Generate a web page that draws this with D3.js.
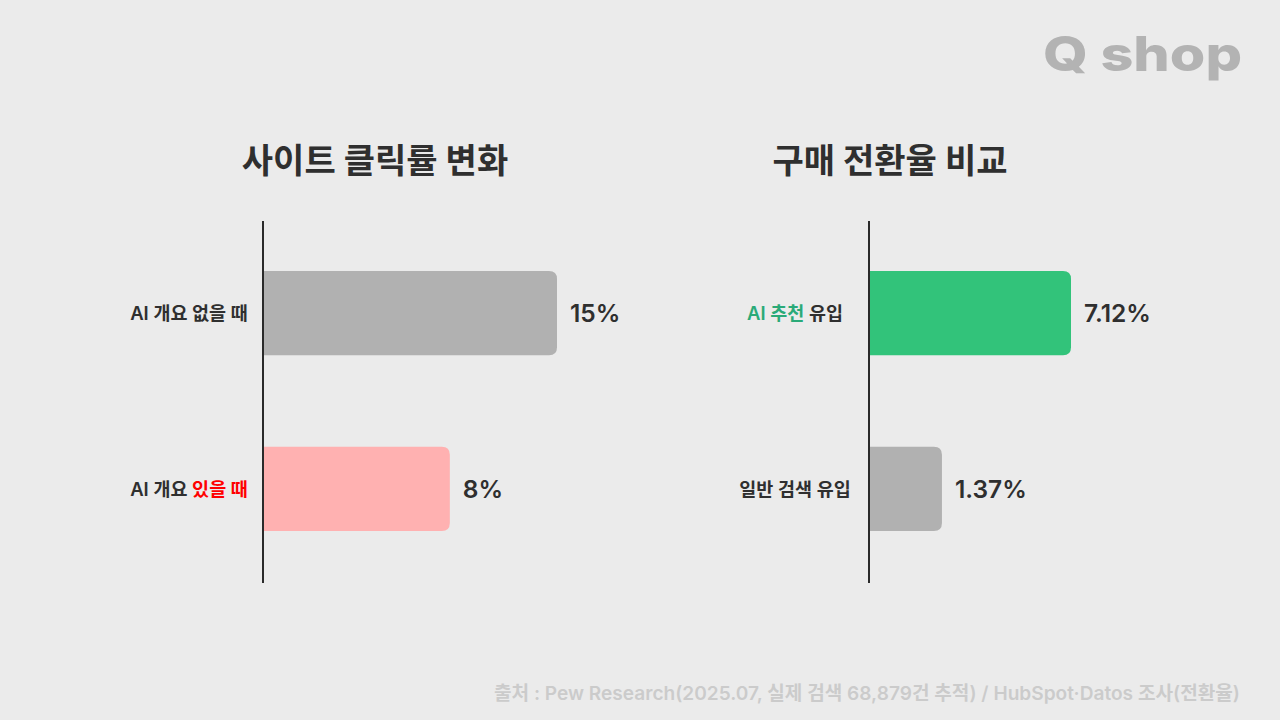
<!DOCTYPE html>
<html>
<head>
<meta charset="utf-8">
<script src="https://cdn.jsdelivr.net/npm/d3@7"></script>
<style>
  html, body { margin: 0; padding: 0; background: #ebebeb; }
  svg { display: block; font-family: "Inter", "Noto Sans CJK KR", sans-serif; }
</style>
</head>
<body>
<div class="chartDiv"></div>
<script>
// data
var clickCats = ["AI 개요 없을 때", "AI 개요 있을 때"];
var clickAccent = ["", "있을 때"];
var clickValues = [15, 8];
var clickValueLabels = ["15%", "8%"];

var convCats = ["AI 추천 유입", "일반 검색 유입"];
var convAccent = ["AI 추천", ""];
var convValues = [7.12, 1.37];
var convValueLabels = ["7.12%", "1.37%"];

var titles = ["사이트 클릭률 변화", "구매 전환율 비교"];
var sourceText = "출처 : Pew Research(2025.07, 실제 검색 68,879건 추적) / HubSpot·Datos 조사(전환율)";
var logoText = "Q shop";

var width = 1280, height = 720;

var svg = d3.select('div.chartDiv').append('svg')
  .attr('width', width)
  .attr('height', height);

svg.append('rect').attr('width', width).attr('height', height).attr('fill', '#ebebeb');

// logo (wide face in the original, stretched to its width)
svg.append('text')
  .attr('x', 1043).attr('y', 71)
  .attr('font-size', 48).attr('font-weight', 800)
  .attr('textLength', 199).attr('lengthAdjust', 'spacingAndGlyphs')
  .attr('fill', '#b3b3b3')
  .text(logoText);

// bar path with rounded right corners only
function barPath(x0, y0, w, h, r) {
  r = Math.min(r, w, h / 2);
  return 'M' + x0 + ',' + y0 +
    'H' + (x0 + w - r) +
    'Q' + (x0 + w) + ',' + y0 + ' ' + (x0 + w) + ',' + (y0 + r) +
    'V' + (y0 + h - r) +
    'Q' + (x0 + w) + ',' + (y0 + h) + ' ' + (x0 + w - r) + ',' + (y0 + h) +
    'H' + x0 + 'Z';
}

function panel(opts) {
  var g = svg.append('g');

  var y = d3.scaleBand().domain(opts.cats)
    .range([220, 582]).paddingInner(0.52).paddingOuter(0.29);

  var x = d3.scaleLinear().domain(opts.domain).range([0, opts.span]);

  g.append('text')
    .attr('x', opts.titleX).attr('y', 173)
    .attr('text-anchor', 'middle')
    .attr('font-size', 34).attr('font-weight', 700)
    .attr('fill', '#2f2f2f')
    .text(opts.title);

  g.selectAll('path.bar').data(opts.values).enter().append('path')
    .attr('class', 'bar')
    .attr('fill', function(d, i) { return opts.colors[i]; })
    .attr('d', function(d, i) {
      return barPath(opts.axisX, y(opts.cats[i]), x(d) - x(opts.domain[0]), y.bandwidth(), 8);
    });

  g.selectAll('text.val').data(opts.values).enter().append('text')
    .attr('class', 'val')
    .attr('x', function(d) { return opts.axisX + x(d) - x(opts.domain[0]) + 13; })
    .attr('y', function(d, i) { return y(opts.cats[i]) + y.bandwidth() / 2; })
    .attr('dy', '0.36em')
    .attr('font-size', 24.5).attr('font-weight', 600)
    .attr('fill', '#2f2f2f')
    .text(function(d, i) { return opts.valueLabels[i]; });

  var labels = g.selectAll('text.cat').data(opts.cats).enter().append('text')
    .attr('class', 'cat')
    .attr('x', opts.axisX - 74)
    .attr('y', function(d) { return y(d) + y.bandwidth() / 2; })
    .attr('dy', '0.36em')
    .attr('text-anchor', 'middle')
    .attr('font-size', 18.5).attr('font-weight', 600)
    .attr('fill', '#2f2f2f');

  labels.each(function(d, i) {
    var acc = opts.accent[i];
    var el = d3.select(this);
    if (!acc) { el.append('tspan').text(d); return; }
    var k = d.indexOf(acc);
    if (k > 0) el.append('tspan').text(d.slice(0, k));
    el.append('tspan').attr('fill', opts.accentColor).text(acc);
    if (k + acc.length < d.length) el.append('tspan').text(d.slice(k + acc.length));
  });

  g.append('line')
    .attr('x1', opts.axisX).attr('x2', opts.axisX)
    .attr('y1', 221).attr('y2', 583)
    .attr('stroke', '#2a2a2a').attr('stroke-width', 2);
}

panel({
  title: titles[0], titleX: 375, axisX: 263,
  cats: clickCats, values: clickValues, valueLabels: clickValueLabels,
  accent: clickAccent, accentColor: '#ff0000',
  domain: [-4.2, 15], span: 294,
  colors: ['#b1b1b1', '#ffb1b1']
});

panel({
  title: titles[1], titleX: 890, axisX: 869,
  cats: convCats, values: convValues, valueLabels: convValueLabels,
  accent: convAccent, accentColor: '#2aaa78',
  domain: [-1.88, 7.12], span: 202,
  colors: ['#32c37a', '#b1b1b1']
});

// source note
svg.append('text')
  .attr('x', 494).attr('y', 700)
  .attr('font-size', 19).attr('font-weight', 600)
  .attr('textLength', 746).attr('lengthAdjust', 'spacingAndGlyphs')
  .attr('fill', '#cbcbcb')
  .text(sourceText);
</script>
</body>
</html>
